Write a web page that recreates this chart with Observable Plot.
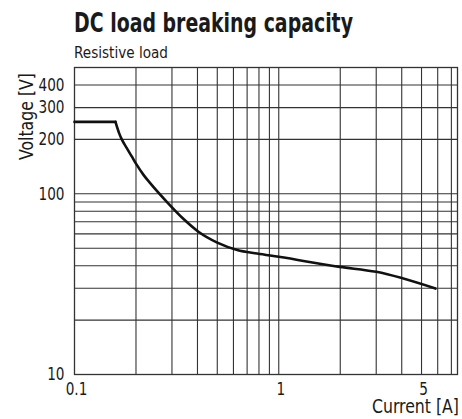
<!DOCTYPE html>
<html>
<head>
<meta charset="utf-8">
<script src="https://cdn.jsdelivr.net/npm/d3@7"></script>
<script src="https://cdn.jsdelivr.net/npm/@observablehq/plot@0.6"></script>
<style>
  html, body { margin: 0; padding: 0; background: #fff; }
  #chart { width: 462px; height: 419px; overflow: hidden; }
</style>
</head>
<body>
<div id="chart"></div>
<script>
// Data
const current = [0.1, 0.1587, 0.1655, 0.1704, 0.1803, 0.1907, 0.2018, 0.2177, 0.2347, 0.286, 0.343, 0.406, 0.5, 0.626, 0.784, 1.0, 1.99, 3.0, 5.85];
const voltage = [250, 250, 216, 200, 179, 161, 144.5, 127.3, 114.6, 89.2, 72.3, 61.5, 53.7, 48.9, 46.7, 44.8, 39.4, 37.0, 29.9];

const xGrid = [0.2, 0.3, 0.4, 0.5, 0.6, 0.7, 0.8, 0.9, 1, 2, 3, 4, 5, 6, 7];
const yGrid = [20, 30, 40, 50, 60, 70, 80, 90, 100, 200, 300, 400];
const xTicks = [0.1, 1, 5];
const yTicks = [10, 100, 200, 300, 400];
const xDomain = [0.1, 7.5];
const yDomain = [10, 500];

const titleText = "DC load breaking capacity";
const subtitleText = "Resistive load";
const xLabel = "Current [A]";
const yLabel = "Voltage [V]";

const curve = current.map((c, i) => ({current: c, voltage: voltage[i]}));
const flatPart = curve.slice(0, 2);
const fallPart = curve.slice(1);

const font = '"DejaVu Sans Condensed", "DejaVu Sans", sans-serif';

const plot = Plot.plot({
  width: 462,
  height: 419,
  marginLeft: 74,
  marginRight: 5,
  marginTop: 67,
  marginBottom: 45,
  style: {fontFamily: font, fontSize: "18px", color: "#1a1a1a", background: "#fff"},
  x: {type: "log", domain: xDomain},
  y: {type: "log", domain: yDomain},
  marks: [
    Plot.ruleX(xGrid, {stroke: "#333", strokeWidth: 1.1}),
    Plot.ruleY(yGrid, {stroke: "#333", strokeWidth: 1.1}),
    Plot.frame({stroke: "#333", strokeWidth: 1.3}),
    Plot.line(flatPart, {x: "current", y: "voltage", stroke: "#111", strokeWidth: 2.6}),
    Plot.line(fallPart, {x: "current", y: "voltage", stroke: "#111", strokeWidth: 2.6, curve: "monotone-x"}),
    Plot.axisX({ticks: xTicks, tickSize: 0, tickPadding: 8, tickFormat: d => String(d), fontSize: 18, dx: 2, label: null}),
    Plot.axisY({ticks: yTicks, tickSize: 0, tickPadding: 10, tickFormat: d => String(d), fontSize: 18, label: null})
  ]
});

document.getElementById("chart").appendChild(plot);

function squeeze(node, factor) {
  const w = node.getComputedTextLength();
  node.setAttribute("textLength", (w * factor).toFixed(1));
  node.setAttribute("lengthAdjust", "spacingAndGlyphs");
}
function fitTo(node, width) {
  node.setAttribute("textLength", width);
  node.setAttribute("lengthAdjust", "spacingAndGlyphs");
}

// narrow the tick labels to a condensed look
plot.querySelectorAll('g[aria-label="x-axis tick label"] text, g[aria-label="y-axis tick label"] text')
  .forEach(t => squeeze(t, 0.84));

const svg = d3.select(plot);
const title = svg.append("text")
  .attr("x", 74).attr("y", 32)
  .attr("text-anchor", "start")
  .style("font-family", font).style("font-weight", "bold").style("font-size", "26px")
  .attr("fill", "#1a1a1a")
  .text(titleText);
fitTo(title.node(), 279);
const sub = svg.append("text")
  .attr("x", 74).attr("y", 58)
  .attr("text-anchor", "start")
  .style("font-family", font).style("font-size", "16px")
  .attr("fill", "#1a1a1a")
  .text(subtitleText);
fitTo(sub.node(), 94);
const xl = svg.append("text")
  .attr("x", 459).attr("y", 413)
  .attr("text-anchor", "end")
  .style("font-family", font).style("font-size", "20px")
  .attr("fill", "#1a1a1a")
  .text(xLabel);
fitTo(xl.node(), 87);
const yl = svg.append("text")
  .attr("transform", "translate(33,116.5) rotate(-90)")
  .attr("text-anchor", "middle")
  .style("font-family", font).style("font-size", "20px")
  .attr("fill", "#1a1a1a")
  .text(yLabel);
fitTo(yl.node(), 87);
</script>
</body>
</html>
